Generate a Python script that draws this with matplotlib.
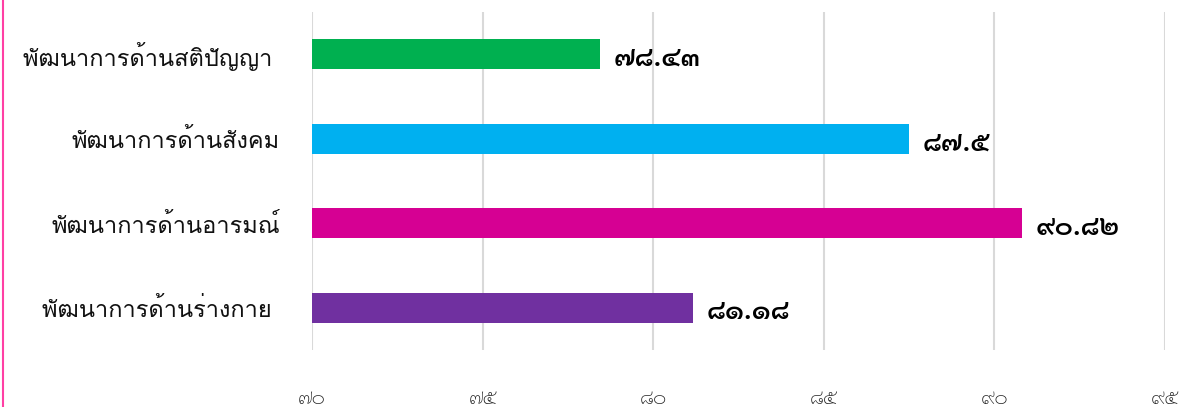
import matplotlib
matplotlib.use('Agg')
import matplotlib.pyplot as plt
from matplotlib.ticker import FuncFormatter, MultipleLocator
from matplotlib.lines import Line2D

# ── Data ──────────────────────────────────────────────────────────────────────
categories = ['พัฒนาการด้านร่างกาย ', 'พัฒนาการด้านอารมณ์',
              'พัฒนาการด้านสังคม', 'พัฒนาการด้านสติปัญญา ']
scores     = [81.18, 90.82, 87.5, 78.43]
colors     = ['#7030a0', '#d60093', '#00b0f0', '#00b050']

THAI_DIGITS = str.maketrans('0123456789', '๐๑๒๓๔๕๖๗๘๙')

def thai(s):
    return str(s).translate(THAI_DIGITS)

LABEL_FONT = ['Loma', 'DejaVu Sans']
NUM_FONT   = ['Sarabun', 'DejaVu Sans']

# ── Figure ────────────────────────────────────────────────────────────────────
fig = plt.figure(figsize=(11.94, 4.07), dpi=100, facecolor='white')
ax = fig.add_axes([0.2613, 0.140, 0.9757 - 0.2613, 0.9705 - 0.140])

y = range(len(categories))
ax.barh(y, [s - 70 for s in scores], left=70, height=0.355, color=colors, zorder=3)

for yi, s in zip(y, scores):
    ax.text(s + 0.4, yi - 0.05, thai(f'{s:g}'), va='center', ha='left',
            fontsize=20, fontweight='semibold', family=NUM_FONT, zorder=4)

ax.set_xlim(70, 95)
ax.set_ylim(-0.5, 3.5)
ax.xaxis.set_major_locator(MultipleLocator(5))
ax.xaxis.set_major_formatter(FuncFormatter(lambda v, _: thai(int(round(v)))))
ax.set_yticks(list(y))
ax.set_yticklabels(categories)

for lbl in ax.get_yticklabels():
    lbl.set_family(LABEL_FONT); lbl.set_fontsize(17); lbl.set_color('#111111')
for lbl in ax.get_xticklabels():
    lbl.set_family(NUM_FONT); lbl.set_fontsize(15); lbl.set_fontweight('light'); lbl.set_color('#222222')

ax.tick_params(axis='y', length=0, pad=23)
ax.tick_params(axis='x', length=0, pad=27)
ax.grid(axis='x', color='#d9d9d9', lw=1.5, zorder=0)
for sp in ax.spines.values():
    sp.set_visible(False)

# pink frame edge on the left
fig.add_artist(Line2D([2.5 / 1194, 2.5 / 1194], [0, 1], color='#ff3fa4', lw=1.5,
                      transform=fig.transFigure))

fig.savefig('out.png', dpi=100, facecolor='white')
